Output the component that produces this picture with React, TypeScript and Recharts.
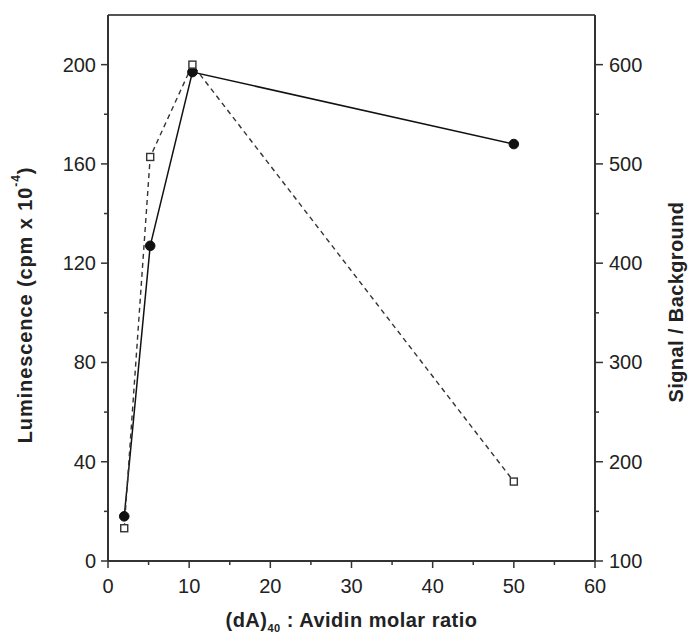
import React from "react";
import { LineChart, Line, XAxis, YAxis, ReferenceLine, Label } from "recharts";

const ratios = [2, 5.2, 10.4, 50];
const luminescence = [18, 127, 197, 168];
const signalBackground = [133, 507, 600, 180];

const xTicks = [0, 5, 10, 15, 20, 25, 30, 35, 40, 45, 50, 55, 60];
const leftTicks = [0, 20, 40, 60, 80, 100, 120, 140, 160, 180, 200];
const rightTicks = [100, 150, 200, 250, 300, 350, 400, 450, 500, 550, 600];

const data = ratios.map((r, i) => ({ r, lum: luminescence[i], sb: signalBackground[i] }));

const INK = "#222";
const AXIS = "#333";
const FONT = "'Liberation Sans', Arial, Helvetica, sans-serif";

const BottomTick = (p: any) => {
  const { x, y, payload } = p;
  const v = payload.value;
  const major = v % 10 === 0;
  return (
    <g>
      <line x1={x} x2={x} y1={y} y2={y + (major ? 7 : 4)} stroke={AXIS} strokeWidth={1.5} />
      {major && (
        <text x={x} y={y + 32} textAnchor="middle" fontSize={20} fill={INK} fontFamily={FONT}>
          {v}
        </text>
      )}
    </g>
  );
};

const LeftTick = (p: any) => {
  const { x, y, payload } = p;
  const v = payload.value;
  const major = v % 40 === 0;
  return (
    <g>
      <line x1={x - (major ? 7 : 4)} x2={x} y1={y} y2={y} stroke={AXIS} strokeWidth={1.5} />
      {major && (
        <text x={x - 12} y={y + 7} textAnchor="end" fontSize={20} fill={INK} fontFamily={FONT}>
          {v}
        </text>
      )}
    </g>
  );
};

const RightTick = (p: any) => {
  const { x, y, payload } = p;
  const v = payload.value;
  const major = v % 100 === 0;
  return (
    <g>
      <line x1={x} x2={x + (major ? 8 : 4)} y1={y} y2={y} stroke={AXIS} strokeWidth={1.5} />
      {major && (
        <text x={x + 14} y={y + 7} textAnchor="start" fontSize={20} fill={INK} fontFamily={FONT}>
          {v}
        </text>
      )}
    </g>
  );
};

const CircleDot = (p: any) => {
  const { cx, cy } = p;
  if (cx == null || cy == null) return null;
  return <circle cx={cx} cy={cy} r={4.8} fill="#111" stroke="#111" />;
};

const SquareDot = (p: any) => {
  const { cx, cy } = p;
  if (cx == null || cy == null) return null;
  return <rect x={cx - 3.5} y={cy - 3.5} width={7} height={7} fill="#fff" stroke="#333" strokeWidth={1.4} />;
};

const LeftTitle = (p: any) => {
  const vb = p.viewBox;
  const cx = vb.x + 25;
  const cy = vb.y + vb.height / 2 + 17;
  return (
    <text
      x={cx}
      y={cy}
      transform={`rotate(-90, ${cx}, ${cy})`}
      textAnchor="middle"
      dominantBaseline="central"
      fontSize={20}
      fontWeight="bold"
      fill={INK}
      fontFamily={FONT}
      letterSpacing={0.9}
    >
      <tspan>Luminescence (cpm x 10</tspan>
      <tspan fontSize={12} dy={-9}>-4</tspan>
      <tspan dy={9}>)</tspan>
    </text>
  );
};

const RightTitle = (p: any) => {
  const vb = p.viewBox;
  const cx = vb.x + 81;
  const cy = vb.y + vb.height / 2 + 14;
  return (
    <text
      x={cx}
      y={cy}
      transform={`rotate(-90, ${cx}, ${cy})`}
      textAnchor="middle"
      dominantBaseline="central"
      fontSize={20}
      fontWeight="bold"
      fill={INK}
      fontFamily={FONT}
      letterSpacing={0.4}
    >
      Signal / Background
    </text>
  );
};

const BottomTitle = (p: any) => {
  const vb = p.viewBox;
  const cx = vb.x + vb.width / 2;
  const cy = vb.y + 66;
  return (
    <text
      x={cx}
      y={cy}
      textAnchor="middle"
      fontSize={20}
      fontWeight="bold"
      fill={INK}
      fontFamily={FONT}
      letterSpacing={0.5}
    >
      <tspan>(dA)</tspan>
      <tspan fontSize={11} dy={5}>40</tspan>
      <tspan dy={-5}> : Avidin molar ratio</tspan>
    </text>
  );
};

export default function App() {
  return (
    <div style={{ position: "absolute", left: 0, top: 0, width: 689, height: 637, background: "#fff" }}>
      <LineChart
        width={689}
        height={637}
        data={data}
        margin={{ top: 15, right: 0, bottom: 0, left: 0 }}
      >
        <XAxis
          dataKey="r"
          type="number"
          domain={[0, 60]}
          ticks={xTicks}
          interval={0}
          height={76}
          tickSize={0}
          tickMargin={0}
          tick={<BottomTick />}
          axisLine={{ stroke: AXIS, strokeWidth: 2 }}
        >
          <Label content={<BottomTitle />} />
        </XAxis>
        <YAxis
          yAxisId="left"
          orientation="left"
          domain={[0, 220]}
          ticks={leftTicks}
          interval={0}
          width={108}
          tickSize={0}
          tickMargin={0}
          tick={<LeftTick />}
          axisLine={{ stroke: AXIS, strokeWidth: 2 }}
        >
          <Label content={<LeftTitle />} />
        </YAxis>
        <YAxis
          yAxisId="right"
          orientation="right"
          domain={[100, 650]}
          ticks={rightTicks}
          interval={0}
          width={94}
          tickSize={0}
          tickMargin={0}
          tick={<RightTick />}
          axisLine={{ stroke: AXIS, strokeWidth: 2 }}
        >
          <Label content={<RightTitle />} />
        </YAxis>
        <ReferenceLine yAxisId="left" y={220} stroke="#555" strokeWidth={2} />
        <Line
          yAxisId="left"
          dataKey="lum"
          type="linear"
          stroke="#111"
          strokeWidth={1.5}
          dot={<CircleDot />}
          activeDot={false}
          isAnimationActive={false}
        />
        <Line
          yAxisId="right"
          dataKey="sb"
          type="linear"
          stroke="#333"
          strokeWidth={1.4}
          strokeDasharray="5 4"
          dot={<SquareDot />}
          activeDot={false}
          isAnimationActive={false}
        />
      </LineChart>
    </div>
  );
}
